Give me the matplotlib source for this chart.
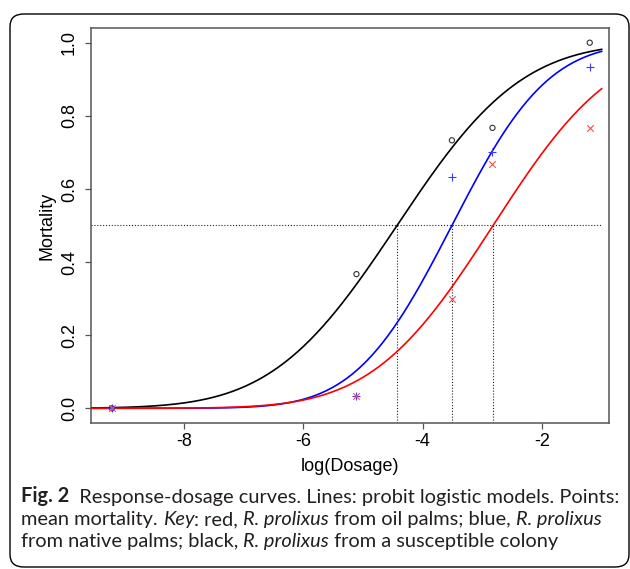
import math
import numpy as np
import matplotlib
matplotlib.use("Agg")
import matplotlib.pyplot as plt
from matplotlib.patches import FancyBboxPatch

# ---- data ----
log_dose = [-9.21, -5.11, -3.51, -2.83, -1.20]
mort_susceptible = [0.0, 0.367, 0.733, 0.767, 1.0]      # black, circles
mort_native = [0.0, 0.033, 0.633, 0.700, 0.933]         # blue, plus
mort_oil = [0.0, 0.033, 0.300, 0.667, 0.767]            # red, x

# probit model parameters (LD50 on log scale, slope)
ld50_susceptible, slope_susceptible = -4.43, 0.61
ld50_native, slope_native = -3.51, 0.79
ld50_oil, slope_oil = -2.82, 0.63

x_ticks = [-8, -6, -4, -2]
y_ticks = [0.0, 0.2, 0.4, 0.6, 0.8, 1.0]
y_ticklabels = ["0.0", "0.2", "0.4", "0.6", "0.8", "1.0"]

caption_lines = [
    [("Fig. 2", "bold"), ("  Response-dosage curves. Lines: probit logistic models. Points:", "normal")],
    [("mean mortality. ", "normal"), ("Key", "italic"), (": red, ", "normal"), ("R. prolixus", "italic"),
     (" from oil palms; blue, ", "normal"), ("R. prolixus", "italic")],
    [("from native palms; black, ", "normal"), ("R. prolixus", "italic"),
     (" from a susceptible colony", "normal")],
]

W, H = 630, 569
fig = plt.figure(figsize=(W / 100, H / 100), dpi=100)
fig.patch.set_facecolor("white")

# rounded frame
frame = FancyBboxPatch((10 / W, 1 - 567 / H), 619 / W, 553 / H,
                       boxstyle="round,pad=0,rounding_size=0.022",
                       transform=fig.transFigure, fill=False,
                       edgecolor="black", linewidth=1.0)
fig.patches.append(frame)

ax = fig.add_axes([91 / W, 1 - 422.7 / H, 518 / W, 394.4 / H])
xmin, xmax = -9.559, -0.877
ax.set_xlim(xmin, xmax)
ax.set_ylim(-0.0394, 1.0394)

_erf = np.vectorize(math.erf)


def probit(x, ld50, slope):
    z = slope * (x - ld50)
    return 0.5 * (1 + _erf(z / math.sqrt(2)))


xs = np.linspace(xmin, -1.0, 400)
ax.plot(xs, probit(xs, ld50_susceptible, slope_susceptible), color="black", lw=1.2, zorder=3)
ax.plot(xs, probit(xs, ld50_native, slope_native), color="#0000ff", lw=1.2, zorder=3)
ax.plot(xs, probit(xs, ld50_oil, slope_oil), color="#ff0000", lw=1.2, zorder=4)

ax.scatter(log_dose, mort_susceptible, marker="o", s=14, facecolors="none",
           edgecolors="#333333", linewidths=0.8, zorder=5)
ax.scatter(log_dose, mort_native, marker="+", s=40, color="#3a3aff", linewidths=0.8, zorder=5)
ax.scatter(log_dose, mort_oil, marker="x", s=22, color="#f25050", linewidths=0.8, zorder=5)

# LD50 guide lines
dot = (0, (1, 1.6))
ax.plot([xmin, -1.0], [0.5, 0.5], color="#222222", lw=0.8, linestyle=dot, zorder=2)
for l50 in (ld50_susceptible, ld50_native, ld50_oil):
    ax.plot([l50, l50], [-0.0394, 0.5], color="#222222", lw=0.8, linestyle=dot, zorder=2)

for s in ax.spines.values():
    s.set_color("#555555")
    s.set_linewidth(1.1)

ax.set_xticks(x_ticks)
ax.set_xticklabels([str(v) for v in x_ticks], fontfamily="Liberation Sans", fontsize=13)
ax.set_yticks(y_ticks)
ax.set_yticklabels(y_ticklabels, fontfamily="Liberation Sans", fontsize=13,
                   rotation=90, va="center")
ax.tick_params(axis="both", length=4.5, width=0.9, color="#555555")
ax.tick_params(axis="x", pad=3)
ax.tick_params(axis="y", pad=5)

ax.set_xlabel("log(Dosage)", fontfamily="Liberation Sans", fontsize=13, labelpad=6)
ax.set_ylabel("Mortality", fontfamily="Liberation Sans", fontsize=13, labelpad=4)

# caption, drawn segment by segment
CAP_FONT = "Lato"
CAP_COLOR = "#231f20"
fig.canvas.draw()
renderer = fig.canvas.get_renderer()


def draw_line(segments, x0_px, y_px, fs):
    x = x0_px
    objs = []
    for txt, style in segments:
        kw = dict(fontfamily=CAP_FONT, fontsize=fs, ha="left", va="baseline", color=CAP_COLOR)
        if style == "bold":
            kw["fontweight"] = "bold"
        elif style == "italic":
            kw["fontstyle"] = "italic"
        t = fig.text(x / W, 1 - y_px / H, txt, **kw)
        objs.append(t)
        x += t.get_window_extent(renderer).width
    return objs, x - x0_px


base = 12
objs, w0 = draw_line(caption_lines[0], 21, 502, base)
for o in objs:
    o.remove()
fs = base * 598 / w0
for segs, yb in zip(caption_lines, [502.5, 525, 547.5]):
    draw_line(segs, 21, yb, fs)

fig.savefig("out.png", dpi=100, facecolor="white")
